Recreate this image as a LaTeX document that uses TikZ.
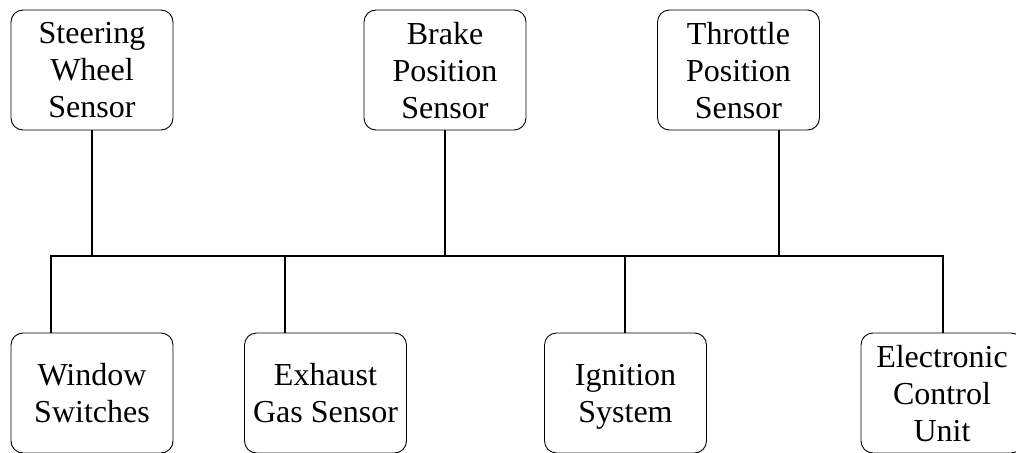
\documentclass[tikz,border=0pt]{standalone}
\usepackage{fontspec}
\setmainfont{Liberation Serif}
\tikzset{
  unit/.style={draw, line width=0.9pt, rounded corners=12pt,
    minimum width=162pt, minimum height=120pt, inner sep=0pt,
    align=center, font=\fontsize{32}{37}\selectfont,
    text depth=-5pt},
  wire/.style={line width=1.6pt}
}
\begin{document}
\begin{tikzpicture}[x=1pt, y=-1pt]
\useasboundingbox (0,0) rectangle (1016,452);

% sensors on the upper side of the bus
\node[unit] (steer) at (92,70)    {Steering\\Wheel\\Sensor};
\node[unit] (brake) at (445,70)   {Brake\\Position\\Sensor};
\node[unit] (thr)   at (738.5,70) {Throttle\\Position\\Sensor};

% devices on the lower side of the bus
\node[unit] (win) at (92,393)    {Window\\Switches};
\node[unit] (exh) at (325.5,393) {Exhaust\\Gas Sensor};
\node[unit] (ign) at (625.5,393) {Ignition\\System};
\node[unit] (ecu) at (942,393)   {Electronic\\Control\\Unit};

% bus ends
\coordinate (busL) at (51,256);
\coordinate (busR) at (943,256);

% the shared bus line with its two end drops
\draw[wire] (busL |- win.north) -- (busL) -- (busR) -- (busR |- ecu.north);

% taps from the upper units
\draw[wire] (steer.south) -- (steer.south |- busL);
\draw[wire] (brake.south) -- (brake.south |- busL);
\draw[wire] ([xshift=40.5pt]thr.south) -- ([xshift=40.5pt]thr.south |- busL);

% taps to the lower units
\draw[wire] ([xshift=-40.5pt]exh.north) -- ([xshift=-40.5pt]exh.north |- busL);
\draw[wire] ([xshift=-0.5pt]ign.north) -- ([xshift=-0.5pt]ign.north |- busL);
\end{tikzpicture}
\end{document}
